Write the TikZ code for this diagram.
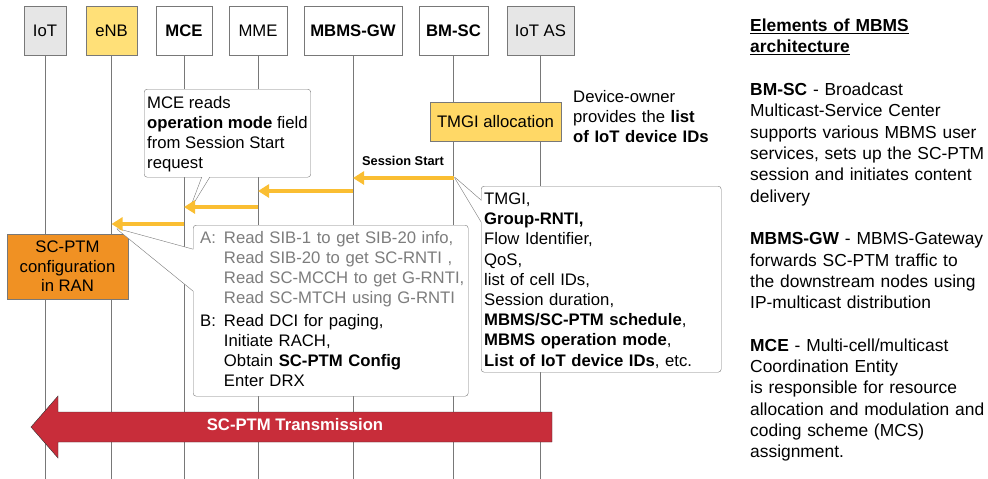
\documentclass[tikz,border=0pt]{standalone}
\usepackage{fontspec}
\setmainfont{Liberation Sans}
\usepackage{tikz}
\usetikzlibrary{shapes.callouts,arrows.meta,positioning,calc}
\definecolor{msgcolor}{RGB}{250,190,50}
\definecolor{enbcolor}{RGB}{255,224,120}
\definecolor{tmgicolor}{RGB}{255,216,102}
\definecolor{ranfill}{RGB}{240,145,35}
\definecolor{hdrgray}{RGB}{230,230,230}
\definecolor{ptmred}{RGB}{200,45,58}
\definecolor{linegray}{RGB}{120,120,120}
\definecolor{textgray}{RGB}{125,125,125}
\newcommand{\bodyfont}{\fontsize{16.7}{20}\selectfont}

\begin{document}
\begin{tikzpicture}[x=1pt,y=-1pt,
    entity/.style={draw=linegray, fill=white, minimum height=49pt, inner sep=0pt, text height=12pt, text depth=0pt, font=\bodyfont},
    lifeline/.style={draw=linegray, line width=0.8pt},
    msg/.style={draw=msgcolor, line width=4pt, -{Triangle[length=11pt,width=13pt]}},
    note/.style={rectangle callout, draw=linegray, fill=white, rounded corners=3pt, anchor=north west, align=left, inner xsep=3pt, inner ysep=3pt, font=\bodyfont},
    stepbox/.style={draw=linegray, align=center, inner sep=0pt, font=\bodyfont}
]
\useasboundingbox (0,0) rectangle (988,479);

% entities and lifelines
\node[entity, fill=hdrgray, minimum width=42pt] (iot) at (45,30.5) {IoT};
\node[entity, fill=enbcolor, minimum width=51pt] (enb) at (111.5,30.5) {eNB};
\node[entity, minimum width=56pt] (mce) at (184,30.5) {\textbf{MCE}};
\node[entity, minimum width=58pt] (mme) at (258,30.5) {MME};
\node[entity, minimum width=98pt] (gw) at (353,30.5) {\textbf{MBMS-GW}};
\node[entity, minimum width=69pt] (bmsc) at (453.5,30.5) {\textbf{BM-SC}};
\node[entity, fill=hdrgray, minimum width=67pt] (iotas) at (540.5,30.5) {IoT AS};
\foreach \n in {iot,enb,mce,mme,gw,bmsc,iotas}
    \draw[lifeline] (\n.south) -- (\n.south |- 0,479);

% boxes
\node[stepbox, fill=tmgicolor, minimum width=131pt, minimum height=39pt] (tmgi) at (495.5,121.5) {TMGI allocation};
\node[anchor=base west, align=left, inner sep=0pt, text width=200pt, font=\bodyfont] (owner) at (573,102) {Device-owner\\ provides the \textbf{list}\\ \textbf{of IoT device IDs}};
\node[stepbox, fill=ranfill, minimum width=121pt, minimum height=65pt, font=\fontsize{16.7}{19.5}\selectfont] (ran) at (67.5,266.5) {SC-PTM\\ configuration\\ in RAN};

% callouts
\coordinate (mcetip) at ($(mce.south |- 0,207)+(5,4)$);
\coordinate (tmgitip) at (bmsc.south |- 0,176);
\coordinate (scantip) at ($(enb.south |- 0,224)+(4,4)$);
\node[note, callout absolute pointer={(mcetip)}, callout pointer width=8pt, minimum width=166pt, minimum height=88pt] (mcenote) at (144,89)
    {\strut MCE reads\\ \textbf{operation mode} field\\ from Session Start\\ request};
\node[note, callout absolute pointer={(tmgitip)}, callout pointer width=22pt, text width=234pt, minimum height=186pt, font=\fontsize{16.7}{20.2}\selectfont] (tmginote) at (481,186)
    {\strut TMGI,\\ \textbf{Group-RNTI,}\\ Flow Identifier,\\ QoS,\\ list of cell IDs,\\ Session duration,\\ \textbf{MBMS/SC-PTM schedule},\\ \textbf{MBMS operation mode},\\ \textbf{List of IoT device IDs}, etc.};
\node[note, callout absolute pointer={(scantip)}, callout pointer width=42pt, text width=269pt, minimum height=171pt] (scannote) at (193,225)
    {\begin{tabular}{@{\hspace{4pt}}l@{\hspace{8pt}}l@{}}
    \color{textgray}A: & \color{textgray}Read SIB-1 to get SIB-20 info,\\
     & \color{textgray}Read SIB-20 to get SC-RNTI ,\\
     & \color{textgray}Read SC-MCCH to get G-RNTI,\\
     & \color{textgray}Read SC-MTCH using G-RNTI\\[3pt]
    B: & Read DCI for paging,\\
     & Initiate RACH,\\
     & Obtain \textbf{SC-PTM Config}\\
     & Enter DRX
    \end{tabular}};

% messages
\node[font=\bfseries\fontsize{12.8}{15}\selectfont, inner sep=0pt] (sslabel) at (403,160.5) {Session Start};
\draw[msg] (bmsc.south |- 0,178) -- (gw.south |- 0,178);
\draw[msg] (gw.south |- 0,191) -- (mme.south |- 0,191);
\draw[msg] (mme.south |- 0,207) -- (mce.south |- 0,207);
\draw[msg] (mce.south |- 0,224) -- (enb.south |- 0,224);

% transmission arrow
\draw[draw=black!80, fill=ptmred] (31,427) -- (58,396) -- (58,412) -- (552,412) -- (552,442) -- (58,442) -- (58,458) -- cycle;
\node[text=white, font=\bfseries\bodyfont, inner sep=0pt] (ptm) at (295,425) {SC-PTM Transmission};

% legend
\node[anchor=base west, align=left, inner sep=0pt, text width=300pt, font=\fontsize{17.4}{21.3}\selectfont] (legend) at (750,31.7)
    {\underline{\textbf{Elements of MBMS}}\\
     \underline{\textbf{architecture}}\\[21.3pt]
     \textbf{BM-SC} - Broadcast\\
     Multicast-Service Center\\
     supports various MBMS user\\
     services, sets up the SC-PTM\\
     session and initiates content\\
     delivery\\[21.3pt]
     \textbf{MBMS-GW} - MBMS-Gateway\\
     forwards SC-PTM traffic to\\
     the downstream nodes using\\
     IP-multicast distribution\\[21.3pt]
     \textbf{MCE} - Multi-cell/multicast\\
     Coordination Entity\\
     is responsible for resource\\
     allocation and modulation and\\
     coding scheme (MCS)\\
     assignment.};
\end{tikzpicture}
\end{document}
